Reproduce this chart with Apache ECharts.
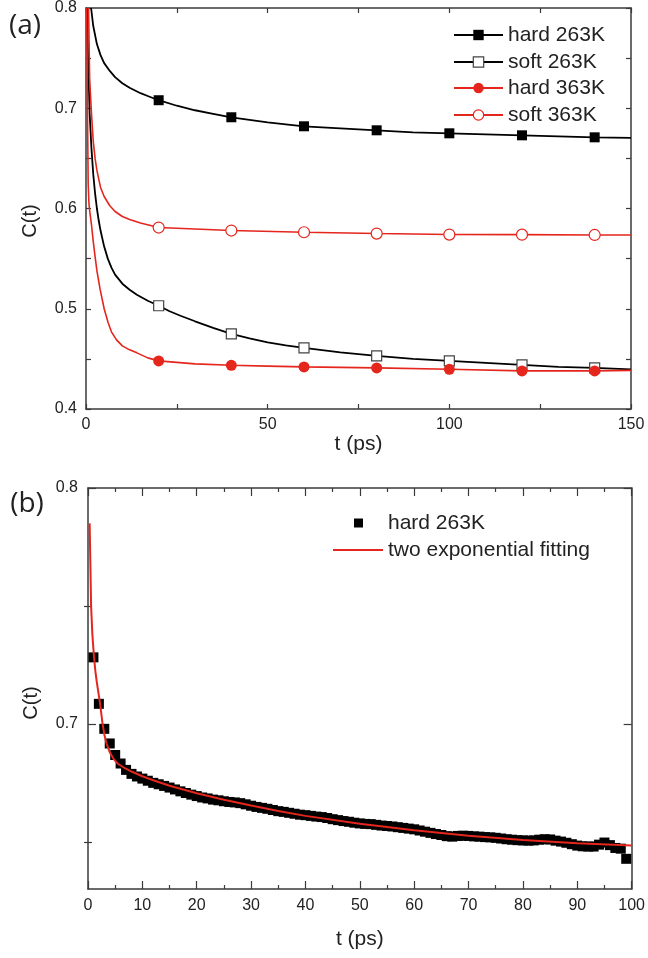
<!DOCTYPE html>
<html>
<head>
<meta charset="utf-8">
<script src="https://cdn.jsdelivr.net/npm/echarts@6/dist/echarts.min.js"></script>
<style>html,body{margin:0;padding:0;background:#fff}#c{width:648px;height:958px}</style>
</head>
<body>
<div id="c"></div>
<script>
// ---------- Panel (a) data ----------
const markerTimesA = [20, 40, 60, 80, 100, 120, 140];

const hard263_t = [1.4, 2, 3, 4, 5, 6.6, 8, 10, 12, 15, 17.5, 20, 25, 30, 35, 40, 50, 60, 70, 80, 90, 100, 110, 120, 130, 140, 150];
const hard263_v = [0.800, 0.782, 0.764, 0.753, 0.745, 0.737, 0.731, 0.725, 0.7205, 0.715, 0.7115, 0.708, 0.7025, 0.698, 0.6945, 0.691, 0.686, 0.682, 0.680, 0.678, 0.676, 0.675, 0.674, 0.673, 0.672, 0.671, 0.6705];

const soft263_t = [0.3, 0.6, 1, 1.5, 2, 2.5, 3, 3.5, 4, 5, 6, 7, 8, 10, 12, 14, 17, 20, 23, 26, 30, 35, 40, 45, 50, 55, 60, 70, 80, 90, 100, 110, 120, 130, 140, 150];
const soft263_v = [0.800, 0.745, 0.695, 0.660, 0.634, 0.615, 0.600, 0.588, 0.578, 0.562, 0.550, 0.541, 0.534, 0.525, 0.519, 0.514, 0.508, 0.503, 0.4975, 0.493, 0.4875, 0.481, 0.475, 0.4705, 0.4665, 0.4635, 0.461, 0.4565, 0.453, 0.450, 0.448, 0.446, 0.444, 0.442, 0.441, 0.4395];

const hard363_t = [0.2, 0.4, 0.6, 0.8, 1.0, 1.5, 2, 2.5, 3, 3.9, 5, 6.1, 7, 8.4, 10, 12, 14, 17, 20, 30, 40, 50, 60, 80, 100, 120, 140, 150];
const hard363_v = [0.800, 0.700, 0.625, 0.606, 0.598, 0.584, 0.567, 0.552, 0.538, 0.519, 0.500, 0.486, 0.477, 0.469, 0.463, 0.459, 0.456, 0.451, 0.448, 0.445, 0.4436, 0.4428, 0.442, 0.441, 0.4396, 0.438, 0.438, 0.4385];

const soft363_t = [0.7, 1.0, 1.5, 2.0, 2.5, 3.0, 4.0, 5, 6.5, 8, 10, 12, 15, 20, 30, 40, 60, 80, 100, 120, 140, 150];
const soft363_v = [0.800, 0.730, 0.695, 0.667, 0.650, 0.638, 0.621, 0.612, 0.603, 0.597, 0.592, 0.589, 0.5855, 0.581, 0.5795, 0.578, 0.5763, 0.575, 0.574, 0.5739, 0.5736, 0.5735];

// ---------- Panel (b) data ----------
const scatter_t = [];
for (let i = 1; i <= 99; i++) scatter_t.push(i);
const scatter_v = [
  0.7282, 0.7085, 0.6979, 0.6917, 0.6868, 0.6832, 0.6805, 0.6788, 0.6777, 0.6768,
  0.6759, 0.6750, 0.6744, 0.6737, 0.6730, 0.6722, 0.6714, 0.6707, 0.6700, 0.6694,
  0.6688, 0.6684, 0.6679, 0.6676, 0.6672, 0.6669, 0.6667, 0.6664, 0.6659, 0.6653,
  0.6648, 0.6644, 0.6640, 0.6635, 0.6630, 0.6627, 0.6623, 0.6619, 0.6615, 0.6613,
  0.6610, 0.6607, 0.6605, 0.6601, 0.6596, 0.6592, 0.6588, 0.6585, 0.6581, 0.6578,
  0.6576, 0.6575, 0.6572, 0.6569, 0.6567, 0.6565, 0.6562, 0.6559, 0.6556, 0.6553,
  0.6548, 0.6543, 0.6538, 0.6533, 0.6529, 0.6524, 0.6522, 0.6525, 0.6526, 0.6525,
  0.6523, 0.6522, 0.6520, 0.6519, 0.6517, 0.6514, 0.6511, 0.6509, 0.6507, 0.6506,
  0.6505, 0.6506, 0.6509, 0.6511, 0.6510, 0.6505, 0.6501, 0.6496, 0.6490, 0.6484,
  0.6481, 0.6480, 0.6480, 0.6488, 0.6497, 0.6486, 0.6474, 0.6471, 0.6428
];

const fit_t = [0.3, 0.45, 0.57, 0.8, 1.1, 1.35, 1.6, 1.9, 2.2, 2.65, 3.0, 3.4, 4.0, 4.7, 5.5, 6.8, 8, 10, 12, 15, 20, 25, 30, 35, 40, 50, 60, 70, 80, 90, 100];
const fit_v = [0.785, 0.766, 0.750, 0.738, 0.7285, 0.7225, 0.718, 0.7135, 0.709, 0.7005, 0.6955, 0.6918, 0.688, 0.6852, 0.6831, 0.6812, 0.6798, 0.6778, 0.6761, 0.6738, 0.6706, 0.6678, 0.6654, 0.6631, 0.6610, 0.6577, 0.6549, 0.6526, 0.6508, 0.6494, 0.6484];

// tick labels
const yTicksB = [0.7, 0.8];
const yMinorB = [0.65, 0.75];

// ---------- build ----------
const FONT = 'Liberation Sans, Arial, sans-serif';
const AX = '#3a3a3a';
const RED = '#e4261d';

function pairs(ts, vs, markers) {
  return ts.map((t, i) => {
    if (markers && markers.indexOf(t) >= 0) return [t, vs[i]];
    if (markers) return { value: [t, vs[i]], symbol: 'none' };
    return [t, vs[i]];
  });
}

function axisBase(extra) {
  return Object.assign({
    type: 'value',
    axisLine: { show: true, onZero: false, lineStyle: { color: AX, width: 1.5 } },
    axisTick: { show: true, inside: true, length: 5, lineStyle: { color: AX, width: 1.2 } },
    splitLine: { show: false },
    axisLabel: { show: false }
  }, extra);
}

const labelStyle = { show: true, fontSize: 16, color: '#222', fontFamily: FONT };
const legendText = { fontSize: 21, color: '#222', fontFamily: FONT, lineHeight: 24 };

const option = {
  animation: false,
  backgroundColor: '#fff',
  grid: [
    { left: 86, top: 8, width: 545, height: 401 },
    { left: 88, top: 488, width: 545, height: 401 }
  ],
  xAxis: [
    axisBase({ gridIndex: 0, position: 'bottom', min: 0, max: 150, interval: 25,
      axisLabel: Object.assign({}, labelStyle, { margin: 8, formatter: v => (v % 50 === 0 ? String(v) : '') }),
      name: 't (ps)', nameLocation: 'middle', nameGap: 20,
      nameTextStyle: { fontSize: 21, color: '#222', fontFamily: FONT } }),
    axisBase({ gridIndex: 0, position: 'top', min: 0, max: 150, interval: 25 }),
    axisBase({ gridIndex: 1, position: 'bottom', min: 0, max: 100, interval: 10,
      axisTick: { show: true, inside: true, length: 8, lineStyle: { color: AX, width: 1.2 } },
      minorTick: { show: true, splitNumber: 2, length: 4, lineStyle: { color: AX, width: 1.2 } },
      axisLabel: Object.assign({}, labelStyle, { margin: 9 }),
      name: 't (ps)', nameLocation: 'middle', nameGap: 40,
      nameTextStyle: { fontSize: 21, color: '#222', fontFamily: FONT } }),
    axisBase({ gridIndex: 1, position: 'top', min: 0, max: 100, interval: 10,
      axisTick: { show: true, inside: true, length: 8, lineStyle: { color: AX, width: 1.2 } },
      minorTick: { show: true, splitNumber: 2, length: 4, lineStyle: { color: AX, width: 1.2 } } })
  ],
  yAxis: [
    axisBase({ gridIndex: 0, position: 'left', min: 0.4, max: 0.8, interval: 0.05,
      axisLabel: Object.assign({}, labelStyle, { margin: 9,
        formatter: v => (Math.abs(v * 10 - Math.round(v * 10)) < 1e-6 ? v.toFixed(1) : '') }) }),
    axisBase({ gridIndex: 0, position: 'right', min: 0.4, max: 0.8, interval: 0.05 }),
    axisBase({ gridIndex: 1, position: 'left', min: 0.63, max: 0.8,
      axisTick: { show: true, inside: true, length: 8, customValues: yTicksB, lineStyle: { color: AX, width: 1.2 } },
      axisLabel: Object.assign({}, labelStyle, { fontSize: 16, margin: 10, customValues: yTicksB, formatter: v => v.toFixed(1) }) }),
    axisBase({ gridIndex: 1, position: 'right', min: 0.63, max: 0.8,
      axisTick: { show: true, inside: true, length: 8, customValues: yTicksB, lineStyle: { color: AX, width: 1.2 } } }),
    axisBase({ gridIndex: 1, position: 'left', min: 0.63, max: 0.8,
      axisLine: { show: false },
      axisTick: { show: true, inside: true, length: 4, customValues: yMinorB, lineStyle: { color: AX, width: 1.2 } } }),
    axisBase({ gridIndex: 1, position: 'right', min: 0.63, max: 0.8,
      axisLine: { show: false },
      axisTick: { show: true, inside: true, length: 4, customValues: yMinorB, lineStyle: { color: AX, width: 1.2 } } })
  ],
  legend: [
    { left: 453, top: 23, itemWidth: 49, itemHeight: 13, padding: 0, data: ['hard 263K'], textStyle: legendText },
    { left: 453, top: 50, itemWidth: 49, itemHeight: 13, padding: 0, data: ['soft 263K'],
      itemStyle: { borderWidth: 1.2 }, textStyle: legendText },
    { left: 453, top: 76, itemWidth: 49, itemHeight: 13, padding: 0, data: ['hard 363K'], textStyle: legendText },
    { left: 453, top: 103, itemWidth: 49, itemHeight: 13, padding: 0, data: ['soft 363K'],
      itemStyle: { borderWidth: 1.2 }, textStyle: legendText },
    { left: 354, top: 511, itemWidth: 9, itemHeight: 9, padding: 0,
      data: [{ name: 'b_hard', icon: 'rect' }],
      formatter: () => 'hard 263K',
      textStyle: Object.assign({}, legendText, { padding: [0, 0, 0, 20] }) },
    { left: 333, top: 538, itemWidth: 50, itemHeight: 2, padding: 0,
      data: [{ name: 'b_fit', icon: 'rect' }],
      formatter: () => 'two exponential fitting',
      textStyle: legendText }
  ],
  graphic: [
    { type: 'text', x: 25, y: 26, style: { text: '(a)', font: '28px "Open Sans", sans-serif', fill: '#222', textAlign: 'center', textVerticalAlign: 'middle' } },
    { type: 'text', x: 27, y: 504, style: { text: '(b)', font: '28px "Open Sans", sans-serif', fill: '#222', textAlign: 'center', textVerticalAlign: 'middle' } },
    { type: 'text', x: 30, y: 221, rotation: Math.PI / 2, style: { text: 'C(t)', font: '20px "Liberation Sans", Arial, sans-serif', fill: '#222', textAlign: 'center', textVerticalAlign: 'middle' } },
    { type: 'text', x: 31, y: 703, rotation: Math.PI / 2, style: { text: 'C(t)', font: '20px "Liberation Sans", Arial, sans-serif', fill: '#222', textAlign: 'center', textVerticalAlign: 'middle' } }
  ],
  series: [
    { name: 'soft 263K', type: 'line', xAxisIndex: 0, yAxisIndex: 0,
      data: pairs(soft263_t, soft263_v, markerTimesA),
      symbol: 'rect', symbolSize: 10,
      lineStyle: { color: '#000', width: 1.8 },
      itemStyle: { color: '#fff', borderColor: '#444', borderWidth: 1.2 }, z: 3 },
    { name: 'hard 363K', type: 'line', xAxisIndex: 0, yAxisIndex: 0,
      data: pairs(hard363_t, hard363_v, markerTimesA),
      symbol: 'circle', symbolSize: 11,
      lineStyle: { color: RED, width: 1.6 },
      itemStyle: { color: RED }, z: 4 },
    { name: 'soft 363K', type: 'line', xAxisIndex: 0, yAxisIndex: 0,
      data: pairs(soft363_t, soft363_v, markerTimesA),
      symbol: 'circle', symbolSize: 11,
      lineStyle: { color: RED, width: 1.6 },
      itemStyle: { color: '#fff', borderColor: RED, borderWidth: 1.2 }, z: 4 },
    { name: 'hard 263K', type: 'line', xAxisIndex: 0, yAxisIndex: 0,
      data: pairs(hard263_t, hard263_v, markerTimesA),
      symbol: 'rect', symbolSize: 10,
      lineStyle: { color: '#000', width: 1.8 },
      itemStyle: { color: '#000' }, z: 5 },
    { name: 'b_hard', type: 'scatter', xAxisIndex: 2, yAxisIndex: 2,
      data: pairs(scatter_t, scatter_v, null),
      symbol: 'rect', symbolSize: 10, itemStyle: { color: '#000', opacity: 1 }, z: 2 },
    { name: 'b_fit', type: 'line', xAxisIndex: 2, yAxisIndex: 2,
      data: pairs(fit_t, fit_v, null),
      showSymbol: false, symbol: 'none',
      lineStyle: { color: RED, width: 2 }, itemStyle: { color: RED }, z: 5 }
  ]
};

const chart = echarts.init(document.getElementById('c'), null, { renderer: 'canvas' });
chart.setOption(option);
</script>
</body>
</html>
